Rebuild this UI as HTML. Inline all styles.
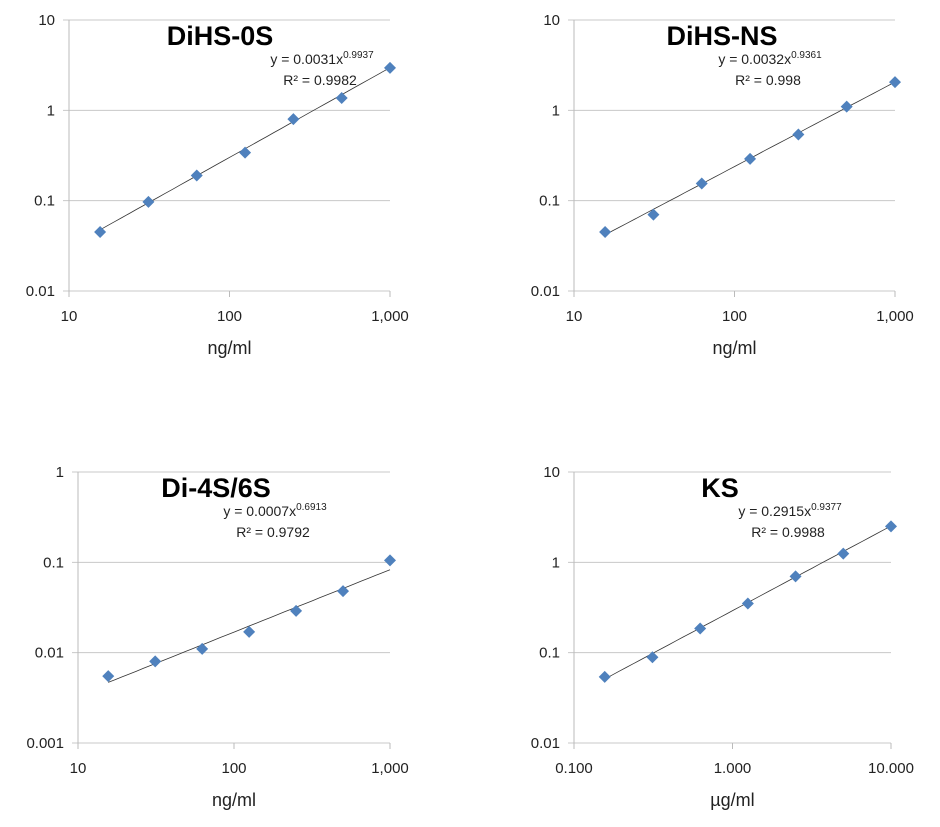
<!DOCTYPE html>
<html><head><meta charset="utf-8"><style>
body{margin:0;background:#fff;}
svg{display:block;font-family:"Liberation Sans",sans-serif;}
</style></head><body>
<svg id="c" width="940" height="827" viewBox="0 0 940 827"></svg>
<script>
const xValsNg=[15.625,31.25,62.5,125,250,500,1000];
const xValsUg=[0.15625,0.3125,0.625,1.25,2.5,5,10];
const yDiHS0S=[0.045,0.097,0.19,0.34,0.8,1.37,2.95];
const yDiHSNS=[0.045,0.07,0.155,0.29,0.54,1.1,2.05];
const yDi4S6S=[0.0055,0.008,0.011,0.017,0.029,0.048,0.105];
const yKS=[0.054,0.089,0.185,0.35,0.7,1.25,2.5];
const titles=["DiHS-0S","DiHS-NS","Di-4S/6S","KS"];
const coefA=[0.0031,0.0032,0.0007,0.2915];
const coefB=[0.9937,0.9361,0.6913,0.9377];
const eqA=["0.0031","0.0032","0.0007","0.2915"];
const eqB=["0.9937","0.9361","0.6913","0.9377"];
const r2=["0.9982","0.998","0.9792","0.9988"];
const xTicksNg=["10","100","1,000"];
const xTicksUg=["0.100","1.000","10.000"];
const yTicksA=["10","1","0.1","0.01"];
const yTicksB=["1","0.1","0.01","0.001"];
const xUnits=["ng/ml","ng/ml","ng/ml","\u00b5g/ml"];

const panels=[
 {l:69,r:390,t:20,b:291,xmin:10,xmax:1000,ymin:0.01,ymax:10,xs:xValsNg,ys:yDiHS0S,xt:xTicksNg,yt:yTicksA,tx:220,ex:322},
 {l:574,r:895,t:20,b:291,xmin:10,xmax:1000,ymin:0.01,ymax:10,xs:xValsNg,ys:yDiHSNS,xt:xTicksNg,yt:yTicksA,tx:722,ex:770},
 {l:78,r:390,t:472,b:743,xmin:10,xmax:1000,ymin:0.001,ymax:1,xs:xValsNg,ys:yDi4S6S,xt:xTicksNg,yt:yTicksB,tx:216,ex:275},
 {l:574,r:891,t:472,b:743,xmin:0.1,xmax:10,ymin:0.01,ymax:10,xs:xValsUg,ys:yKS,xt:xTicksUg,yt:yTicksA,tx:720,ex:790}
];
const NS="http://www.w3.org/2000/svg";
const svg=document.getElementById('c');
function mk(tag,attrs,parent,text){const e=document.createElementNS(NS,tag);for(const k in attrs)e.setAttribute(k,attrs[k]);if(text!==undefined)e.textContent=text;(parent||svg).appendChild(e);return e;}
panels.forEach((p,i)=>{
 const g=mk('g',{});
 
 
 const lx=Math.log10(p.xmin),hx=Math.log10(p.xmax),ly=Math.log10(p.ymin),hy=Math.log10(p.ymax);
 const X=v=>p.l+(Math.log10(v)-lx)/(hx-lx)*(p.r-p.l);
 const Y=v=>p.b-(Math.log10(v)-ly)/(hy-ly)*(p.b-p.t);
 p.yt.forEach((t,k)=>{
  const y=p.t+k*(p.b-p.t)/(p.yt.length-1);
  const ln=mk('line',{x1:p.l-6,x2:p.r,y1:y,y2:y,stroke:'#c8c8c8','stroke-width':1},g);
  
  
  const tx=mk('text',{x:p.l-14,y:y+5,'text-anchor':'end','font-size':15,fill:'#222'},g,t);
  
  
 });
 const ya=mk('line',{x1:p.l,x2:p.l,y1:p.t,y2:p.b,stroke:'#bbb'},g);
 
 
 p.xt.forEach((t,k)=>{
  const x=p.l+k*(p.r-p.l)/(p.xt.length-1);
  mk('line',{x1:x,x2:x,y1:p.b,y2:p.b+6,stroke:'#bbb'},g);
  const tx=mk('text',{x:x,y:p.b+30,'text-anchor':'middle','font-size':15,fill:'#222'},g,t);
  
  
 });
 const xl=mk('text',{x:(p.l+p.r)/2,y:p.b+63,'text-anchor':'middle','font-size':18,fill:'#222'},g,xUnits[i]);
 
 
 const tt=mk('text',{x:p.tx,y:p.t+25,'text-anchor':'middle','font-size':27,'font-weight':'bold',fill:'#000'},g,titles[i]);
 
 
 let d='';const n=40;
 const x0=p.xs[0],x1=p.xs[p.xs.length-1];
 for(let k=0;k<=n;k++){const xv=x0*Math.pow(x1/x0,k/n);const yv=coefA[i]*Math.pow(xv,coefB[i]);d+=(k?'L':'M')+X(xv).toFixed(1)+','+Y(yv).toFixed(1);}
 const tl=mk('path',{d:d,fill:'none',stroke:'#333','stroke-width':0.8},g);
 
 
 p.xs.forEach((xv,k)=>{
  const cx=X(xv),cy=Y(p.ys[k]);
  const m=mk('path',{d:`M${cx},${cy-6}L${cx+6},${cy}L${cx},${cy+6}L${cx-6},${cy}Z`,fill:'#4f81bd'},g);
  
  
 });
 const eq=mk('text',{x:p.ex,y:p.t+44,'text-anchor':'middle','font-size':14,fill:'#222'},g);
 
 
 mk('tspan',{},eq,'y = '+eqA[i]+'x');
 mk('tspan',{'font-size':10,dy:-6},eq,eqB[i]);
 const rr=mk('text',{x:p.ex-2,y:p.t+65,'text-anchor':'middle','font-size':14,fill:'#222'},g,'R\u00b2 = '+r2[i]);
 
 
});
</script>
</body></html>
